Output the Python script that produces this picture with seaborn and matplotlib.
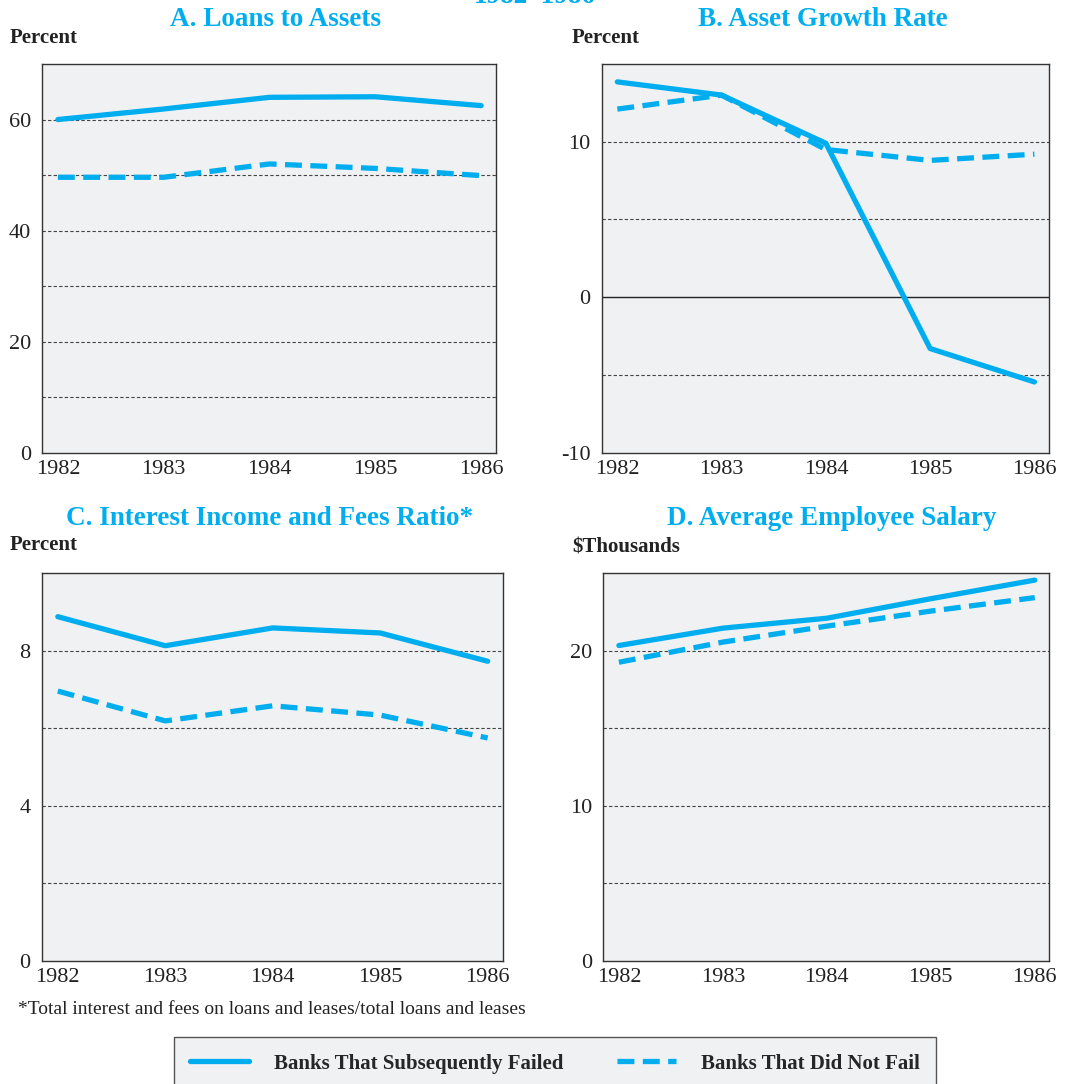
import matplotlib
matplotlib.use("Agg")
import matplotlib.pyplot as plt
import seaborn as sns
import pandas as pd
from matplotlib.lines import Line2D

sns.set_theme(style="white")
plt.rcParams['font.family'] = ['Liberation Serif', 'DejaVu Serif']

years = [1982, 1983, 1984, 1985, 1986]
series_names = ["Banks That Subsequently Failed", "Banks That Did Not Fail"]

loans_failed = [60.0, 61.9, 64.0, 64.1, 62.5]
loans_notfail = [49.6, 49.6, 52.0, 51.2, 49.9]

growth_failed = [13.85, 13.0, 9.9, -3.3, -5.45]
growth_notfail = [12.1, 13.0, 9.5, 8.8, 9.2]

income_failed = [8.88, 8.13, 8.59, 8.46, 7.73]
income_notfail = [6.96, 6.19, 6.58, 6.34, 5.75]

salary_failed = [20.34, 21.46, 22.1, 23.36, 24.56]
salary_notfail = [19.26, 20.56, 21.59, 22.56, 23.43]

titles = ["A. Loans to Assets", "B. Asset Growth Rate",
          "C. Interest Income and Fees Ratio*", "D. Average Employee Salary"]
ylabels = ["Percent", "Percent", "Percent", "$Thousands"]
ylims = [(0, 70), (-10, 15), (0, 10), (0, 25)]
yticks = [[0, 20, 40, 60], [-10, 0, 10], [0, 4, 8], [0, 10, 20]]
ygrids = [[10, 20, 30, 40, 50, 60], [-5, 5, 10], [2, 4, 6, 8], [5, 10, 15, 20]]
footnote = "*Total interest and fees on loans and leases/total loans and leases"
top_title = "1982\u20131986"

data = [(loans_failed, loans_notfail), (growth_failed, growth_notfail),
        (income_failed, income_notfail), (salary_failed, salary_notfail)]

CYAN = "#00AEEF"
BG = "#F0F1F3"
W, H = 1072, 1084
fig = plt.figure(figsize=(W / 100, H / 100), dpi=100)

# axes rectangles in pixels: left, top, right, bottom
rects = [(42, 64, 496, 452.7), (601.7, 64, 1049, 452.7),
         (41.7, 573.3, 502.7, 960.7), (603.3, 573.3, 1049.3, 960.7)]
title_pos = [(275, 18), (823, 18), (270, 516), (832, 516)]
ylab_pos = [(10, 38), (572, 38), (10, 545), (572, 548)]

dash = (3.2, 1.6)
for i, (l, t, r, b) in enumerate(rects):
    ax = fig.add_axes([l / W, 1 - b / H, (r - l) / W, (b - t) / H])
    ax.set_facecolor(BG)
    f, nf = data[i]
    df = pd.DataFrame({"year": years * 2, "value": f + nf,
                       "series": [series_names[0]] * 5 + [series_names[1]] * 5})
    for g in ygrids[i]:
        ax.axhline(g, color="#444444", lw=0.8, ls=(0, (3, 2)), zorder=1)
    if i == 1:
        ax.axhline(0, color="#222222", lw=1.0, zorder=1)
    sns.lineplot(data=df, x="year", y="value", hue="series", style="series",
                 palette=[CYAN, CYAN], dashes=["", dash], linewidth=3.8,
                 ax=ax, legend=False, zorder=3)
    ax.set_xlim(1981.85, 1986.14)
    ax.set_ylim(*ylims[i])
    ax.set_xticks(years)
    ax.set_xticklabels([str(y) for y in years])
    ax.set_yticks(yticks[i])
    ax.set_yticklabels([str(v) for v in yticks[i]])
    ax.tick_params(axis="x", direction="in", length=9, width=0.8, color="#333333",
                   labelsize=16, pad=5, labelcolor="#222222")
    ax.tick_params(axis="y", length=0, labelsize=16, pad=8, labelcolor="#222222")
    ax.set_xlabel("")
    ax.set_ylabel("")
    for s in ax.spines.values():
        s.set_color("#333333")
        s.set_linewidth(1.0)
        s.set_visible(True)
    tx, ty = title_pos[i]
    fig.text(tx / W, 1 - (ty + 2) / H, titles[i], ha="center", va="center",
             fontsize=19.5, fontweight="bold", color=CYAN)
    lx, ly = ylab_pos[i]
    fig.text(lx / W, 1 - ly / H, ylabels[i], ha="left", va="center",
             fontsize=15, fontweight="bold", color="#222222")

fig.text(535 / W, 1 - 3 / H, top_title, ha="center", va="baseline",
         fontsize=19.5, fontweight="bold", color=CYAN)
fig.text(18 / W, 1 - 1010 / H, footnote, ha="left", va="center",
         fontsize=14, color="#222222")

handles = [Line2D([0], [0], color=CYAN, lw=3.8),
           Line2D([0], [0], color=CYAN, lw=3.8, dashes=dash)]
leg = fig.legend(handles, series_names, loc="upper center",
                 bbox_to_anchor=(555 / W, 1 - 1037 / H), ncol=2,
                 frameon=True, fancybox=False, borderpad=0.8, borderaxespad=0,
                 handlelength=2.8, handletextpad=1.2, columnspacing=2.6,
                 prop={"family": "Liberation Serif", "weight": "bold", "size": 15})
leg.get_frame().set_facecolor(BG)
leg.get_frame().set_edgecolor("#555555")
leg.get_frame().set_linewidth(1.0)
leg.get_frame().set_alpha(1.0)

fig.savefig("out.png", dpi=100)
